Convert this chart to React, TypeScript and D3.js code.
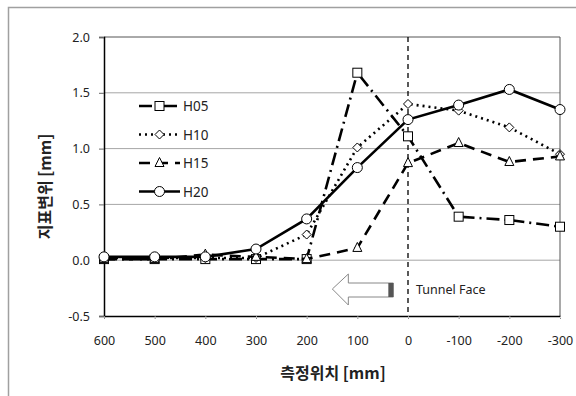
import React, { useEffect, useRef } from 'react';
import * as d3 from 'd3';

const positions = [600, 500, 400, 300, 200, 100, 0, -100, -200, -300];
const h05 = [0.01, 0.01, 0.01, 0.01, 0.01, 1.68, 1.11, 0.39, 0.36, 0.3];
const h10 = [0.02, 0.02, 0.02, 0.02, 0.23, 1.01, 1.4, 1.34, 1.19, 0.95];
const h15 = [0.01, 0.01, 0.05, 0.03, 0.01, 0.11, 0.87, 1.05, 0.88, 0.93];
const h20 = [0.03, 0.03, 0.03, 0.1, 0.37, 0.83, 1.26, 1.39, 1.53, 1.35];
const yTicks = [-0.5, 0, 0.5, 1.0, 1.5, 2.0];

const seriesList = [
  { name: 'H05', values: h05, marker: 'square', dash: '13,5,2,5' },
  { name: 'H10', values: h10, marker: 'diamond', dash: '2,4' },
  { name: 'H15', values: h15, marker: 'triangle', dash: '11,7' },
  { name: 'H20', values: h20, marker: 'circle', dash: null },
];

const App = () => {
  const svgRef = useRef<SVGSVGElement>(null);

  useEffect(() => {
    const width = 576;
    const height = 396;
    const svg = d3.select(svgRef.current).attr('width', width).attr('height', height);
    svg.selectAll('*').remove();

    const font = "'Noto Sans', 'Open Sans', sans-serif";
    const left = 104, right = 560, top = 37, bottom = 316;

    const x = d3.scaleLinear().domain([600, -300]).range([left, right]);
    const y = d3.scaleLinear().domain([-0.5, 2.0]).range([bottom, top]);

    // chart frame
    svg.append('rect')
      .attr('x', 8.5).attr('y', 7.5).attr('width', 600).attr('height', 420)
      .attr('fill', '#fff').attr('stroke', '#a0a0a0').attr('stroke-width', 1.5);

    // gridlines
    svg.append('g').selectAll('line')
      .data(yTicks.filter(t => t > -0.5 && t < 2.0))
      .enter().append('line')
      .attr('x1', left).attr('x2', right)
      .attr('y1', d => y(d)).attr('y2', d => y(d))
      .attr('stroke', '#a6a6a6').attr('stroke-width', 1);

    // plot border top/right
    svg.append('line').attr('x1', left).attr('x2', right).attr('y1', top).attr('y2', top)
      .attr('stroke', '#555').attr('stroke-width', 1);
    svg.append('line').attr('x1', right).attr('x2', right).attr('y1', top).attr('y2', bottom)
      .attr('stroke', '#555').attr('stroke-width', 1);

    // axes
    const yAxis = svg.append('g').attr('transform', `translate(${left},0)`)
      .call(d3.axisLeft(y).tickValues(yTicks).tickFormat(d => (+d).toFixed(1)).tickSize(5).tickPadding(9));
    yAxis.select('.domain').attr('stroke', '#000').attr('stroke-width', 1.5);
    yAxis.selectAll('.tick line').attr('stroke', '#666');
    yAxis.selectAll('text').attr('font-family', font).attr('font-size', 12.5).attr('fill', '#222');

    const xAxis = svg.append('g').attr('transform', `translate(0,${bottom})`)
      .call(d3.axisBottom(x).tickValues(positions).tickFormat(d => String(d)).tickSizeInner(4).tickSizeOuter(0).tickPadding(16));
    xAxis.select('.domain').attr('stroke', '#000').attr('stroke-width', 1.5);
    xAxis.selectAll('.tick line').attr('stroke', '#888').attr('stroke-dasharray', '1,1');
    xAxis.selectAll('text').attr('font-family', font).attr('font-size', 12.5).attr('fill', '#222');

    // tunnel face line
    svg.append('line')
      .attr('x1', x(0)).attr('x2', x(0)).attr('y1', top).attr('y2', bottom)
      .attr('stroke', '#000').attr('stroke-width', 1.3).attr('stroke-dasharray', '5,4');

    // arrow
    const ax = x(100) - 25;
    svg.append('path')
      .attr('d', `M${ax},289 L${ax + 16},274 L${ax + 16},283 L${ax + 61},283 L${ax + 61},297 L${ax + 16},297 L${ax + 16},305 Z`)
      .attr('fill', '#fff').attr('stroke', '#888').attr('stroke-width', 1);
    svg.append('rect').attr('x', ax + 56).attr('y', 283).attr('width', 5).attr('height', 14)
      .attr('fill', '#555');
    svg.append('text').attr('x', x(0) + 8).attr('y', 294)
      .attr('font-family', font).attr('font-size', 12.5).attr('fill', '#222')
      .text('Tunnel Face');

    const drawMarker = (g: any, type: string, cx: number, cy: number) => {
      const s = 4.5;
      if (type === 'square') {
        g.append('rect').attr('x', cx - s).attr('y', cy - s).attr('width', 2 * s).attr('height', 2 * s)
          .attr('fill', '#fff').attr('stroke', '#000').attr('stroke-width', 1);
      } else if (type === 'diamond') {
        g.append('path').attr('d', `M${cx},${cy - s} L${cx + s},${cy} L${cx},${cy + s} L${cx - s},${cy} Z`)
          .attr('fill', '#fff').attr('stroke', '#000').attr('stroke-width', 1);
      } else if (type === 'triangle') {
        g.append('path').attr('d', `M${cx},${cy - s - 1} L${cx + s},${cy + s - 1} L${cx - s},${cy + s - 1} Z`)
          .attr('fill', '#fff').attr('stroke', '#000').attr('stroke-width', 1);
      } else {
        g.append('circle').attr('cx', cx).attr('cy', cy).attr('r', s + 0.5)
          .attr('fill', '#fff').attr('stroke', '#000').attr('stroke-width', 1);
      }
    };

    const line = d3.line<number>().x((d, i) => x(positions[i])).y(d => y(d));

    seriesList.forEach(s => {
      const g = svg.append('g');
      g.append('path').datum(s.values).attr('d', line)
        .attr('fill', 'none').attr('stroke', '#000').attr('stroke-width', 2.6)
        .attr('stroke-dasharray', s.dash);
      s.values.forEach((v, i) => drawMarker(g, s.marker, x(positions[i]), y(v)));
    });

    // legend
    const legend = svg.append('g');
    seriesList.forEach((s, i) => {
      const ly = 106 + i * 28.5;
      legend.append('line').attr('x1', 139).attr('x2', 180).attr('y1', ly).attr('y2', ly)
        .attr('stroke', '#000').attr('stroke-width', 2.6).attr('stroke-dasharray', s.dash);
      drawMarker(legend, s.marker, 159.5, ly);
      legend.append('text').attr('x', 183).attr('y', ly + 5)
        .attr('font-family', font).attr('font-size', 13.5).attr('fill', '#222').text(s.name);
    });

    // axis titles
    svg.append('text')
      .attr('transform', `translate(51,${(top + bottom) / 2 + 10}) rotate(-90)`)
      .attr('text-anchor', 'middle')
      .attr('font-family', "'Noto Sans CJK KR', sans-serif").attr('font-size', 16).attr('font-weight', 'bold')
      .attr('fill', '#222')
      .text('지표변위 [mm]');
    svg.append('text')
      .attr('x', 333).attr('y', 379)
      .attr('text-anchor', 'middle')
      .attr('font-family', "'Noto Sans CJK KR', sans-serif").attr('font-size', 16).attr('font-weight', 'bold')
      .attr('fill', '#222')
      .text('측정위치 [mm]');
  }, []);

  return <svg ref={svgRef} style={{ position: 'absolute', left: 0, top: 0 }}></svg>;
};

export default App;
